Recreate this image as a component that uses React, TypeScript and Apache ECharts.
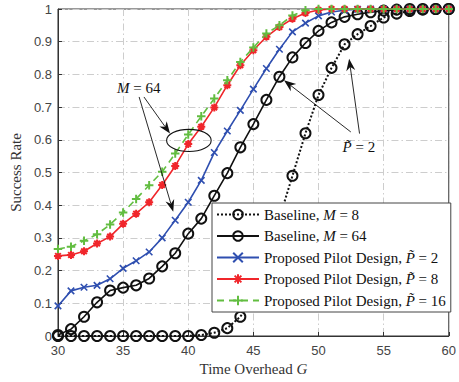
import React, { useEffect, useRef } from "react";
import * as echarts from "echarts";

const G = [30, 31, 32, 33, 34, 35, 36, 37, 38, 39, 40, 41, 42, 43, 44, 45, 46, 47, 48, 49, 50, 51, 52, 53, 54, 55, 56, 57, 58, 59, 60];

const baselineM8 = [0, 0, 0, 0, 0, 0, 0, 0, 0, 0, 0, 0.003, 0.01, 0.024, 0.059, 0.12, 0.22, 0.36, 0.49, 0.62, 0.737, 0.82, 0.892, 0.923, 0.948, 0.974, 0.986, 0.994, 0.998, 1, 1];
const baselineM64 = [0.003, 0.021, 0.059, 0.103, 0.139, 0.148, 0.155, 0.176, 0.213, 0.253, 0.313, 0.359, 0.429, 0.498, 0.577, 0.648, 0.722, 0.793, 0.852, 0.896, 0.933, 0.959, 0.976, 0.984, 0.99, 0.995, 0.998, 1, 1, 1, 1];
const proposedP2 = [0.092, 0.138, 0.149, 0.155, 0.175, 0.207, 0.23, 0.257, 0.3, 0.354, 0.409, 0.476, 0.561, 0.627, 0.69, 0.755, 0.818, 0.877, 0.93, 0.957, 0.979, 0.991, 0.996, 0.999, 1, 1, 1, 1, 1, 1, 1];
const proposedP8 = [0.245, 0.248, 0.259, 0.283, 0.304, 0.343, 0.374, 0.409, 0.462, 0.52, 0.587, 0.64, 0.699, 0.767, 0.828, 0.874, 0.915, 0.945, 0.97, 0.988, 0.997, 1, 1, 1, 1, 1, 1, 1, 1, 1, 1];
const proposedP16 = [0.266, 0.273, 0.291, 0.311, 0.341, 0.378, 0.419, 0.461, 0.502, 0.558, 0.616, 0.672, 0.726, 0.782, 0.838, 0.882, 0.925, 0.95, 0.98, 0.996, 1, 1, 1, 1, 1, 1, 1, 1, 1, 1, 1];

const seriesNames = [
  "Baseline, M = 8",
  "Baseline, M = 64",
  "Proposed Pilot Design, P = 2",
  "Proposed Pilot Design, P = 8",
  "Proposed Pilot Design, P = 16",
];
const legendLabels = [
  "Baseline, {i|M} = 8",
  "Baseline, {i|M} = 64",
  "Proposed Pilot Design, {i|P\u0303} = 2",
  "Proposed Pilot Design, {i|P\u0303} = 8",
  "Proposed Pilot Design, {i|P\u0303} = 16",
];

// annotation anchors in data coordinates [G, rate]
const m64Text: [number, number] = [36.2, 0.758];
const m64Ellipse = { c: [40.05, 0.598] as [number, number], rx: 1.71, ry: 0.034 };
const m64Arrows: [number, number][][] = [
  [[36.6, 0.731], [38.6, 0.619]],
  [[36.23, 0.731], [38.85, 0.38]],
];
const p2Text: [number, number] = [53.1, 0.577];
const p2Arrows: [number, number][][] = [
  [[52.48, 0.624], [47.35, 0.782]],
  [[53.15, 0.619], [52.35, 0.848]],
];

const SERIF = "Liberation Serif";
const SANS = "Liberation Sans";

function pairs(vals: number[]) {
  return G.map((g, i) => [g, vals[i]]);
}

function arrowEls(p0: number[], p1: number[]) {
  const dx = p1[0] - p0[0];
  const dy = p1[1] - p0[1];
  const L = Math.sqrt(dx * dx + dy * dy);
  const ux = dx / L, uy = dy / L;
  const len = 12, hw = 4.5;
  const bx = p1[0] - ux * len, by = p1[1] - uy * len;
  const nx = p1[0] - ux * len * 0.7, ny = p1[1] - uy * len * 0.7;
  const px = -uy, py = ux;
  return [
    {
      type: "line",
      shape: { x1: p0[0], y1: p0[1], x2: nx, y2: ny },
      style: { stroke: "#111", lineWidth: 0.9 },
      z: 100,
    },
    {
      type: "polygon",
      shape: {
        points: [
          [p1[0], p1[1]],
          [bx + px * hw, by + py * hw],
          [nx, ny],
          [bx - px * hw, by - py * hw],
        ],
      },
      style: { fill: "#111", stroke: "none" },
      z: 100,
    },
  ];
}

export default function App() {
  const ref = useRef<HTMLDivElement>(null);
  useEffect(() => {
    document.body.style.margin = "0";
    const chart = echarts.init(ref.current!, null, { renderer: "svg" });
    const black = "#111";
    const blue = "#2f4fb0";
    const red = "#f0262b";
    const green = "#62bd40";
    const option: any = {
      animation: false,
      backgroundColor: "#fff",
      grid: {
        left: 52,
        right: 7,
        top: 9,
        bottom: 46,
        show: true,
        borderColor: "#333",
        borderWidth: 1,
      },
      xAxis: {
        type: "value",
        min: 30,
        max: 60,
        interval: 5,
        axisLine: { show: true, lineStyle: { color: "#333", width: 1 } },
        axisTick: { show: true, inside: true, length: 4, lineStyle: { color: "#333" } },
        axisLabel: { fontFamily: SANS, fontSize: 13, color: "#444", margin: 8 },
        splitLine: { show: true, lineStyle: { color: "#cdcdcd", width: 1, type: [7, 3, 1.5, 3] } },
        name: "Time Overhead {i|G}",
        nameLocation: "middle",
        nameGap: 25,
        nameTextStyle: {
          fontFamily: SERIF,
          fontSize: 15,
          color: "#333",
          rich: { i: { fontFamily: SERIF, fontSize: 15, fontStyle: "italic", color: "#333" } },
        },
      },
      yAxis: {
        type: "value",
        min: 0,
        max: 1,
        interval: 0.1,
        axisLine: { show: true, lineStyle: { color: "#333", width: 1 } },
        axisTick: { show: true, inside: true, length: 4, lineStyle: { color: "#333" } },
        axisLabel: { fontFamily: SANS, fontSize: 13, color: "#444", margin: 6 },
        splitLine: { show: true, lineStyle: { color: "#cdcdcd", width: 1, type: [7, 3, 1.5, 3] } },
        name: "Success Rate",
        nameLocation: "middle",
        nameGap: 34,
        nameTextStyle: { fontFamily: SERIF, fontSize: 15, color: "#333" },
      },
      legend: {
        orient: "vertical",
        left: 212,
        top: 203,
        itemWidth: 42,
        itemHeight: 12,
        itemGap: 6.5,
        padding: [4, 5, 4, 4],
        backgroundColor: "#fff",
        borderColor: "#444",
        borderWidth: 1,
        align: "left",
        selectedMode: false,
        data: seriesNames,
        formatter: (name: string) => legendLabels[seriesNames.indexOf(name)],
        textStyle: {
          fontFamily: SERIF,
          fontSize: 15,
          color: "#111",
          lineHeight: 15,
          rich: { i: { fontFamily: SERIF, fontSize: 15, fontStyle: "italic", color: "#111", lineHeight: 15 } },
        },
      },
      series: [
        {
          name: seriesNames[0],
          type: "line",
          data: pairs(baselineM8),
          symbol: "circle",
          symbolSize: 10,
          lineStyle: { color: black, width: 2, type: "dotted" },
          itemStyle: { color: "rgba(0,0,0,0)", borderColor: black, borderWidth: 2 },
          z: 2,
        },
        {
          name: seriesNames[1],
          type: "line",
          data: pairs(baselineM64),
          symbol: "circle",
          symbolSize: 10,
          lineStyle: { color: black, width: 1.6 },
          itemStyle: { color: "rgba(0,0,0,0)", borderColor: black, borderWidth: 2 },
          z: 3,
        },
        {
          name: seriesNames[2],
          type: "line",
          data: pairs(proposedP2),
          symbol: "path://M0 0L10 10M10 0L0 10",
          symbolSize: 6.5,
          lineStyle: { color: blue, width: 1.6 },
          itemStyle: { color: "rgba(0,0,0,0)", borderColor: blue, borderWidth: 1.6 },
          z: 4,
        },
        {
          name: seriesNames[3],
          type: "line",
          data: pairs(proposedP8),
          symbol: "path://M5 0L5 10M0 5L10 5M1.5 1.5L8.5 8.5M8.5 1.5L1.5 8.5",
          symbolSize: 8,
          lineStyle: { color: red, width: 1.6 },
          itemStyle: { color: "rgba(0,0,0,0)", borderColor: red, borderWidth: 2 },
          z: 5,
        },
        {
          name: seriesNames[4],
          type: "line",
          data: pairs(proposedP16),
          symbol: "path://M5 0L5 10M0 5L10 5",
          symbolSize: 8.5,
          lineStyle: { color: green, width: 1.6, type: [7, 5] },
          itemStyle: { color: "rgba(0,0,0,0)", borderColor: green, borderWidth: 2 },
          z: 6,
        },
      ],
    };
    chart.setOption(option);

    const px = (p: [number, number] | number[]) => chart.convertToPixel({ gridIndex: 0 }, p) as number[];
    const els: any[] = [];
    const ec = px(m64Ellipse.c);
    const ex = px([m64Ellipse.c[0] + m64Ellipse.rx, m64Ellipse.c[1] + m64Ellipse.ry]);
    els.push({
      type: "ellipse",
      shape: { cx: ec[0], cy: ec[1], rx: Math.abs(ex[0] - ec[0]), ry: Math.abs(ex[1] - ec[1]) },
      style: { fill: "none", stroke: "#111", lineWidth: 1.1 },
      z: 100,
    });
    m64Arrows.forEach((a) => els.push(...arrowEls(px(a[0]), px(a[1]))));
    p2Arrows.forEach((a) => els.push(...arrowEls(px(a[0]), px(a[1]))));
    const t1 = px(m64Text);
    els.push({
      type: "text",
      x: t1[0],
      y: t1[1],
      z: 100,
      style: {
        text: "{i|M} = 64",
        fontFamily: SERIF,
        fontSize: 15,
        fill: "#111",
        align: "center",
        verticalAlign: "middle",
        rich: { i: { fontFamily: SERIF, fontSize: 15, fontStyle: "italic", fill: "#111" } },
      },
    });
    const t2 = px(p2Text);
    els.push({
      type: "text",
      x: t2[0],
      y: t2[1],
      z: 100,
      style: {
        text: "{i|P\u0303} = 2",
        fontFamily: SERIF,
        fontSize: 15,
        fill: "#111",
        align: "center",
        verticalAlign: "middle",
        rich: { i: { fontFamily: SERIF, fontSize: 15, fontStyle: "italic", fill: "#111" } },
      },
    });
    chart.setOption({ graphic: els });

    return () => chart.dispose();
  }, []);
  return <div ref={ref} style={{ width: 459, height: 382 }} />;
}
